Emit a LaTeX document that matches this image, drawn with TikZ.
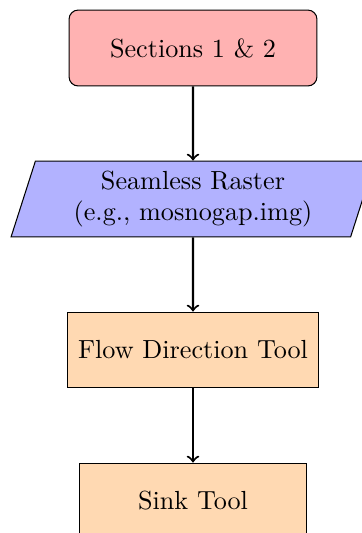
\documentclass[tikz,border=0pt]{standalone}
\usetikzlibrary{shapes.geometric}
\begin{document}
\begin{tikzpicture}[x=0.382pt,y=-0.382pt,
  base/.style={draw=black,minimum height=29pt,inner sep=2pt,align=center,font=\normalsize},
  startbox/.style={base,rectangle,rounded corners=3.5pt,fill=red!30,minimum width=94.7pt},
  iobox/.style={base,trapezium,trapezium left angle=70,trapezium right angle=110,trapezium stretches body,fill=blue!30,minimum width=139pt},
  procbox/.style={base,rectangle,fill=orange!30},
  link/.style={->,thick}]
\clip (0,0) rectangle (362,533);
\useasboundingbox (0,0) rectangle (362,533);
\node[startbox] (sec) at (193,48) {Sections 1 \& 2};
\node[iobox] (raster) at (193,199) {Seamless Raster\\(e.g., mosnogap.img)};
\node[procbox,minimum width=95.9pt] (flow) at (193,350) {Flow Direction Tool};
\node[procbox,minimum width=86.7pt] (sink) at (193,501) {Sink Tool};
\draw[link] (sec) -- (raster);
\draw[link] (raster) -- (flow);
\draw[link] (flow) -- (sink);
\end{tikzpicture}
\end{document}
